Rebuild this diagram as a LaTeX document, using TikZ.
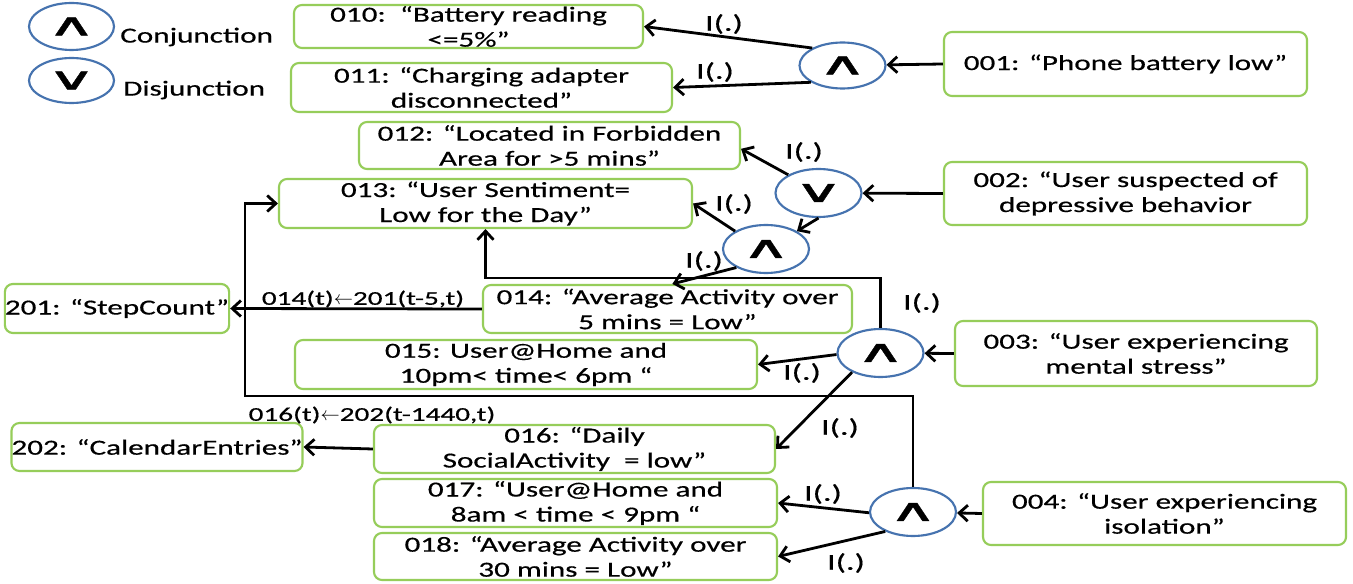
\documentclass[tikz,border=0pt]{standalone}
\usepackage{fontspec}
\setmainfont{Carlito}[FakeStretch=1.45,FakeBold=0.5]
\newfontfamily\lblfont{Carlito}[FakeStretch=1.5,FakeBold=0.5]
\newfontfamily\symfont{DejaVu Sans}[FakeStretch=2.2,FakeBold=1.5]
\usetikzlibrary{arrows.meta,shapes.geometric}
\definecolor{boxgreen}{RGB}{150,205,90}
\definecolor{gateblue}{RGB}{70,115,175}
\begin{document}
\begin{tikzpicture}[x=0.75pt,y=-0.75pt,
  box/.style={draw=boxgreen, line width=1.6pt, rounded corners=6pt, align=center, inner sep=0pt,
    font=\fontsize{16.1}{18.75}\selectfont},
  bs/.style 2 args={minimum width=#1*0.75pt, minimum height=#2*0.75pt},
  gate/.style={draw=gateblue, line width=1.6pt, ellipse, inner sep=0pt,
    minimum width=64.5pt, minimum height=36pt, font=\symfont\fontsize{23}{23}\selectfont},
  legtext/.style={anchor=west, inner sep=0pt, font=\fontsize{16.1}{18.75}\selectfont},
  lbl/.style={inner sep=0pt, font=\lblfont\fontsize{17}{19}\selectfont},
  elbl/.style={inner sep=0pt, font=\lblfont\fontsize{14.6}{16}\selectfont},
  arr/.style={line width=2.1pt, -{Straight Barb[length=6.5pt,width=12pt]}}
]
\useasboundingbox (0,0) rectangle (1353,584);
\fill[white] (0,0) rectangle (1353,584);

% legend
\node[gate, bs={85}{47}] (legand) at (71.5,26.5) {∧};
\node[legtext] (conj) at (120,37) {Conjunction};
\node[gate, bs={85}{45}] (legor) at (71.5,80.5) {∨};
\node[legtext] (disj) at (123,90) {Disjunction};

% boxes
\node[box, bs={349}{43}] (b010) at (468.5,26.5) {010:\ \ “Battery reading\\<=5\%”};
\node[box, bs={381}{49}] (b011) at (481.5,87.5) {011: “Charging adapter\\disconnected”};
\node[box, bs={381}{47}] (b012) at (549.5,145.5) {012: “Located in Forbidden\\Area for >5 mins”};
\node[box, bs={413}{49}] (b013) at (485.5,203.5) {013: “User Sentiment=\\Low for the Day”};
\node[box, bs={363}{64}] (b001) at (1125.5,64) {001: “Phone battery low”};
\node[box, bs={363}{63}] (b002) at (1125.5,193.5) {002: “User suspected of\\depressive behavior};
\node[box, bs={224}{49}] (b201) at (117,308.5) {201: “StepCount”};
\node[box, bs={369}{48}] (b014) at (667.5,309) {014: “Average Activity over\\5 mins = Low”};
\node[box, bs={462}{49}] (b015) at (526,364.5) {015: User@Home and\\10pm< time< 6pm “};
\node[box, bs={362}{65}] (b003) at (1136,353.5) {003: “User experiencing\\mental stress”};
\node[box, bs={282}{48}] (b202) at (157,447) {202: “CalendarEntries”};
\node[box, bs={401}{48}] (b016) at (574.5,449) {016: “Daily\\SocialActivity\ \ = low”};
\node[box, bs={403}{48}] (b017) at (575.5,503) {017: “User@Home and\\8am < time < 9pm “};
\node[box, bs={403}{47}] (b018) at (575.5,556.5) {018: “Average Activity over\\30 mins = Low”};
\node[box, bs={363}{63}] (b004) at (1164.5,513.5) {004: “User experiencing\\isolation”};

% gates
\node[gate, bs={86}{46}] (g1) at (842.5,65.5) {∧};
\node[gate, bs={86}{48}] (g2) at (818.5,193) {∨};
\node[gate, bs={86}{48}] (g3) at (766,249) {∧};
\node[gate, bs={86}{48}] (g4) at (880.5,353) {∧};
\node[gate, bs={86}{48}] (g5) at (913,512) {∧};

\coordinate (c1) at (245,396);

% connectors
\draw[arr] (b001.west) -- (g1);
\draw[arr] (g1.150) -- (b010.east);
\draw[arr] (g1.208) -- (b011.east);
\draw[arr] (b002.west) -- (g2);
\draw[arr] (g2.149) -- (b012.-1.5);
\draw[arr] (g2.south) -- (g3.30);
\draw[arr] (g3.150) -- (b013.east);
\draw[arr] (g3.212) -- (b014.79);
\draw[arr] (b003.west) -- (g4);
\draw[arr] (g4.182) -- (b015.east);
\draw[arr] (g4.214) -- (b016.east);
\draw[arr] (g4.north) -- (g4.north |- 0,278) -| (b013.south);
\draw[arr] (b004.west) -- (g5);
\draw[arr] (g5.181) -- (b017.east);
\draw[arr] (g5.215) -- (b018.east);
\draw[arr] (g5.north) |- (c1) |- (b013.west);
\draw[arr] (b014.west) -- (b201.east);
\draw[arr] (b016.west) -- (b202.east);

% labels
\node[lbl] (l1) at (724,24) {I(.)};
\node[lbl] (l2) at (715,72) {I(.)};
\node[lbl] (l3) at (804,152) {I(.)};
\node[lbl] (l4) at (734,204) {I(.)};
\node[lbl] (l5) at (704,261) {I(.)};
\node[lbl] (l6) at (922,303) {I(.)};
\node[lbl] (l7) at (802,373) {I(.)};
\node[lbl] (l8) at (840,428) {I(.)};
\node[lbl] (l9) at (823,494) {I(.)};
\node[lbl] (l10) at (846,563) {I(.)};
\node[elbl] (e1) at (363,299) {014(t)\ensuremath{\leftarrow}201(t-5,t)};
\node[elbl] (e2) at (372,415) {016(t)\ensuremath{\leftarrow}202(t-1440,t)};
\end{tikzpicture}
\end{document}
